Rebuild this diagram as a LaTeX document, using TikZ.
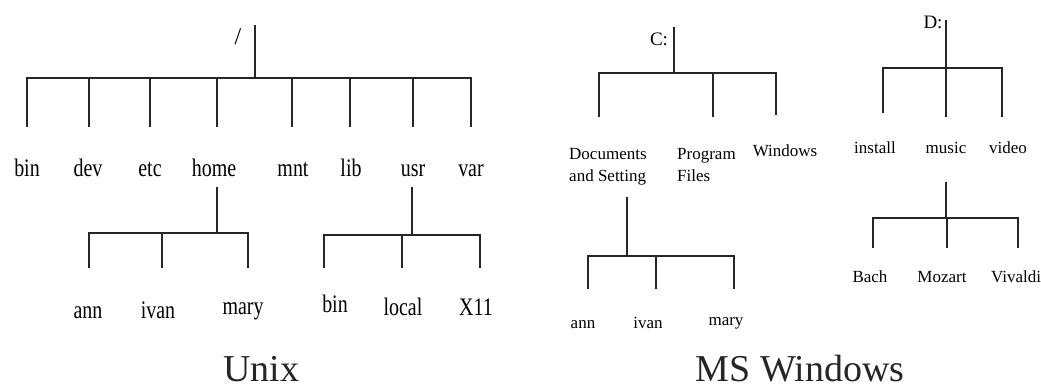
\documentclass[tikz,border=0pt]{standalone}
\usepackage{graphicx}
\usepackage{fontspec}
\setmainfont{Liberation Serif}
\newcommand{\ufont}{\fontsize{21}{21}\selectfont}
\newcommand{\wfont}{\fontsize{17}{22}\selectfont}
\newcommand{\dfont}{\fontsize{19}{19}\selectfont}
\newcommand{\tfont}{\fontsize{38}{38}\selectfont}
\newcommand{\ut}[1]{\scalebox{0.95}[1.2]{#1}}
\tikzset{
  edge/.style={draw=black!85, line width=1.3pt},
  ulab/.style={anchor=base, inner sep=0pt, font=\ufont},
  wlab/.style={anchor=base, inner sep=0pt, font=\wfont},
  wlab2/.style={anchor=north west, inner sep=0pt, font=\wfont, align=left},
  drive/.style={anchor=base, inner sep=0pt, font=\dfont},
  ttl/.style={anchor=base, inner sep=0pt, font=\tfont, text=black!85}
}
\begin{document}
\begin{tikzpicture}[x=1pt,y=-1pt]
\useasboundingbox (0,0) rectangle (1041,391);
% ---------------- Unix ----------------
\node[ulab, font=\fontsize{24}{24}\selectfont] (root) at (238,44) {/};
\node[ulab] (bin)  at (27,176)  {\ut{bin}};
\node[ulab] (dev)  at (88,176)  {\ut{dev}};
\node[ulab] (etc)  at (150,176) {\ut{etc}};
\node[ulab] (home) at (214,176) {\ut{home}};
\node[ulab] (mnt)  at (293,176) {\ut{mnt}};
\node[ulab] (lib)  at (351,176) {\ut{lib}};
\node[ulab] (usr)  at (413,176) {\ut{usr}};
\node[ulab] (var)  at (471,176) {\ut{var}};
\node[ulab] (ann)  at (88,318)  {\ut{ann}};
\node[ulab] (ivan) at (158,318) {\ut{ivan}};
\node[ulab] (mary) at (243,314) {\ut{mary}};
\node[ulab] (ubin) at (335,312) {\ut{bin}};
\node[ulab] (local) at (403,315) {\ut{local}};
\node[ulab] (x11)  at (476,315) {\ut{X11}};
\node[ttl] (unix) at (261,381) {Unix};

\coordinate (rT) at (255,25);
\coordinate (rJ) at (255,78);
\coordinate (eBin) at (27,127);
\coordinate (eDev) at (89,127);
\coordinate (eEtc) at (150,127);
\coordinate (eHome) at (217,127);
\coordinate (eMnt) at (292,127);
\coordinate (eLib) at (350,127);
\coordinate (eUsr) at (413,127);
\coordinate (eVar) at (471,127);
\draw[edge] (rT) -- (rJ);
\foreach \e in {eBin,eDev,eEtc,eHome,eMnt,eLib,eUsr,eVar} \draw[edge] (rJ) -| (\e);

\coordinate (hT) at (217,187);
\coordinate (hJ) at (217,233);
\coordinate (eAnn) at (89,268);
\coordinate (eIvan) at (162,268);
\coordinate (eMary) at (248,268);
\draw[edge] (hT) -- (hJ);
\foreach \e in {eAnn,eIvan,eMary} \draw[edge] (hJ) -| (\e);

\coordinate (uT) at (412,187);
\coordinate (uJ) at (412,235);
\coordinate (eUbin) at (324,268);
\coordinate (eLocal) at (402,268);
\coordinate (eX) at (480,268);
\draw[edge] (uT) -- (uJ);
\foreach \e in {eUbin,eLocal,eX} \draw[edge] (uJ) -| (\e);

% ---------------- MS Windows ----------------
\node[drive] (c) at (659,45) {C:};
\node[wlab2] (docs) at (569,148) {Documents\\and Setting};
\node[wlab2] (prog) at (677,148) {Program\\Files};
\node[wlab] (win) at (785,156) {Windows};
\node[wlab] (wann) at (583,328) {ann};
\node[wlab] (wivan) at (648,328) {ivan};
\node[wlab] (wmary) at (726,325) {mary};
\node[drive] (d) at (933,28) {D:};
\node[wlab] (install) at (875,153) {install};
\node[wlab] (music) at (946,153) {music};
\node[wlab] (video) at (1008,153) {video};
\node[wlab] (bach) at (870,282) {Bach};
\node[wlab] (mozart) at (942,282) {Mozart};
\node[wlab] (vivaldi) at (1016,282) {Vivaldi};
\node[ttl] (mswin) at (800,381) {MS Windows};

\coordinate (cT) at (674,27);
\coordinate (cJ) at (674,73);
\coordinate (eDocs) at (599,117);
\coordinate (eProg) at (713,117);
\coordinate (eWin) at (776,115);
\draw[edge] (cT) -- (cJ);
\foreach \e in {eDocs,eProg,eWin} \draw[edge] (cJ) -| (\e);

\coordinate (dsT) at (627,197);
\coordinate (dsJ) at (627,256);
\coordinate (eWann) at (588,289);
\coordinate (eWivan) at (656,289);
\coordinate (eWmary) at (734,289);
\draw[edge] (dsT) -- (dsJ);
\foreach \e in {eWann,eWivan,eWmary} \draw[edge] (dsJ) -| (\e);

\coordinate (dT) at (946,20);
\coordinate (dJ) at (946,68);
\coordinate (eInstall) at (883,113);
\coordinate (eMusic) at (946,117);
\coordinate (eVideo) at (1002,117);
\draw[edge] (dT) -- (dJ);
\foreach \e in {eInstall,eMusic,eVideo} \draw[edge] (dJ) -| (\e);

\coordinate (mT) at (946,182);
\coordinate (mJ) at (946,218);
\coordinate (eBach) at (873,248);
\coordinate (eMozart) at (947,248);
\coordinate (eVivaldi) at (1018,248);
\draw[edge] (mT) -- (mJ);
\foreach \e in {eBach,eMozart,eVivaldi} \draw[edge] (mJ) -| (\e);
\end{tikzpicture}
\end{document}
